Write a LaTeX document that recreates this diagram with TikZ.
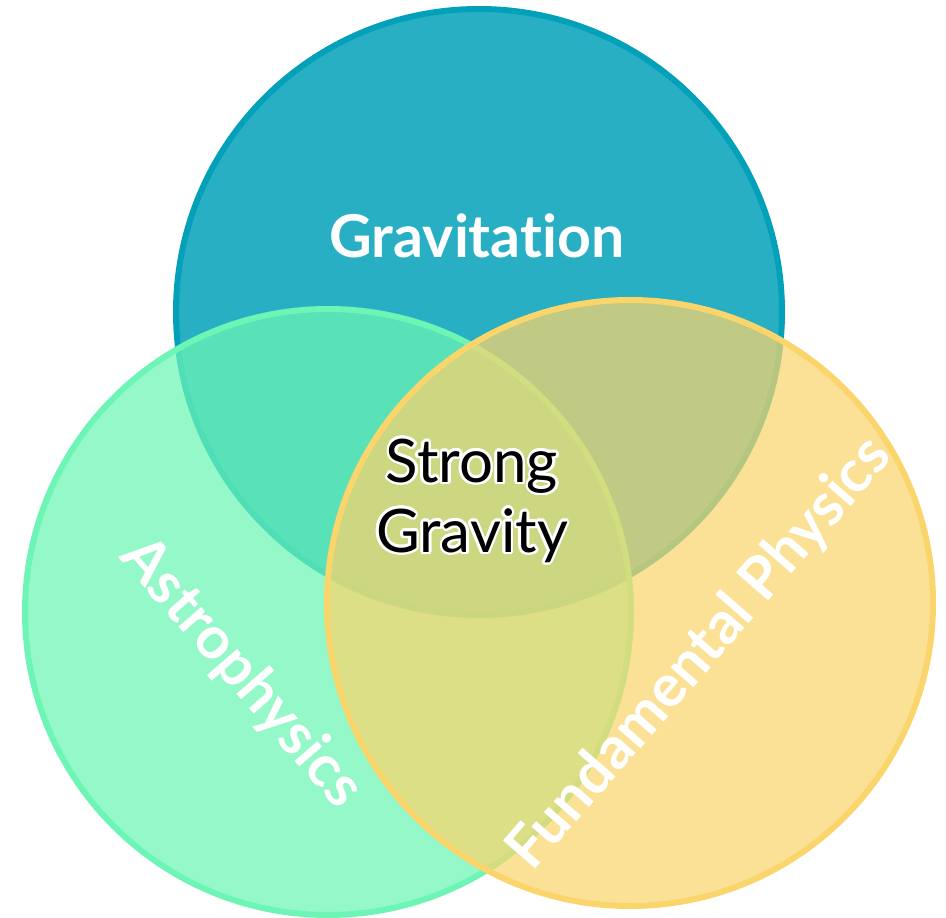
\documentclass[tikz,border=0pt]{standalone}
\usepackage{fontspec}
\setmainfont{Lato}[Ligatures=NoCommon]
\usepackage{contour}
\contourlength{2.6pt}
\definecolor{gravcol}{HTML}{03A1B9}
\definecolor{astrocol}{HTML}{6CF5B5}
\definecolor{fundcol}{HTML}{FAD56C}
\tikzset{
  venn/.style={circle, draw, line width=6pt, minimum size=606pt, inner sep=0pt},
  venntext/.style={text=white, font=\fontsize{59}{70}\selectfont\bfseries, inner sep=0pt}
}
\begin{document}
\begin{tikzpicture}[x=1pt, y=-1pt]
        \useasboundingbox (0,0) rectangle (946,918);
        % Circles
        \node (grav) [venn, draw=gravcol, fill=gravcol, fill opacity=0.85] at (479,312) {};
        \node (astro) [venn, draw=astrocol, fill=astrocol, fill opacity=0.73] at (328,612) {};
        \node (fund) [venn, draw=fundcol, fill=fundcol, fill opacity=0.72] at (630,603) {};

        % Labels
        \node (gravtext) [venntext, anchor=base] at (477,257) {Gravitation};
        \node (astrotext) [venntext, rotate=-49] at (241,673) {Astrophysics};
        \node (fundtext) [venntext, rotate=49] at (700,654) {Fundamental Physics};
        \node (strong) [align=center, inner sep=0pt, font=\fontsize{60}{70}\selectfont] at (472,502) {\contour{white}{Strong}\\\contour{white}{Gravity}};
    \end{tikzpicture}
\end{document}
